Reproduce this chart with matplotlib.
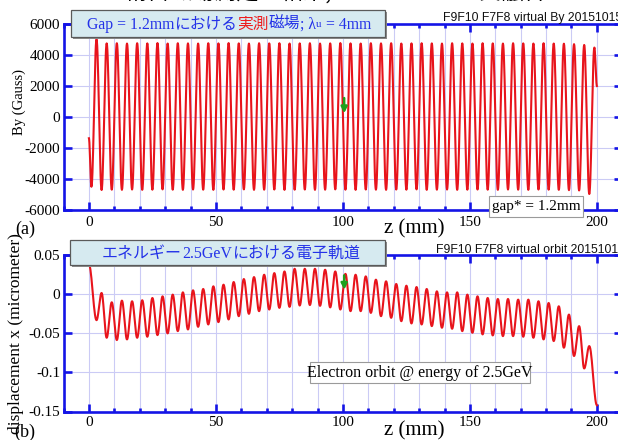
import numpy as np
import matplotlib
matplotlib.use("Agg")
import matplotlib.pyplot as plt
from matplotlib.patches import Rectangle
from matplotlib.transforms import IdentityTransform
from matplotlib.ticker import FixedLocator, FixedFormatter, MultipleLocator

plt.rcParams['axes.unicode_minus'] = False
plt.rcParams['font.family'] = ['Liberation Serif', 'Noto Sans CJK JP']
plt.rcParams['font.size'] = 11

W, H, DPI = 618, 440, 100

LAMBDA_U = 4.0  # undulator period (mm)

# ---------------- (a) virtual By field, value at each extremum (Gauss)
by_start = (0.0, -1370)
by_end = (200.0, 2000)
by_trough_z0 = 1.0
by_peak_z0 = 3.0
by_troughs = [-4500, -4710, -4690, -4700, -4680, -4700, -4690, -4670, -4690, -4700,
              -4680, -4690, -4700, -4680, -4690, -4670, -4700, -4690, -4680, -4700,
              -4690, -4680, -4700, -4690, -4670, -4690, -4700, -4680, -4690, -4700,
              -4680, -4690, -4670, -4700, -4690, -4680, -4700, -4690, -4680, -4690,
              -4700, -4680, -4690, -4700, -4680, -4690, -4700, -4720, -4740, -4970]
by_peaks = [5010, 4750, 4760, 4740, 4760, 4750, 4770, 4740, 4760, 4750,
            4740, 4760, 4750, 4770, 4750, 4740, 4760, 4750, 4760, 4740,
            4750, 4760, 4740, 4750, 4770, 4750, 4740, 4760, 4750, 4760,
            4740, 4750, 4760, 4750, 4740, 4760, 4750, 4740, 4760, 4750,
            4740, 4760, 4750, 4740, 4760, 4740, 4730, 4700, 4650, 4480]

# ---------------- (b) electron orbit at 2.5 GeV, value at each extremum
orbit_start = (0.0, 0.038)
orbit_end = (200.0, -0.142)
orbit_trough_z0 = 3.0
orbit_peak_z0 = 5.0
orbit_troughs = [-0.0333, -0.0558, -0.0587, -0.0579, -0.0558, -0.0545, -0.0524, -0.0502, -0.0473, -0.0452,
                 -0.0418, -0.0388, -0.0358, -0.0324, -0.0282, -0.0252, -0.0218, -0.0197, -0.0176, -0.0163,
                 -0.0146, -0.0140, -0.0150, -0.0170, -0.0197,
                 -0.0218, -0.0218, -0.0240, -0.0282, -0.0303, -0.0346, -0.0375,
                 -0.0388, -0.0409, -0.0430, -0.0443, -0.0473, -0.0494, -0.0515, -0.0528, -0.0537,
                 -0.0537, -0.0545, -0.0558, -0.0579, -0.0600, -0.0685, -0.0791, -0.0950]
orbit_peaks = [0.0015, -0.0104, -0.0083, -0.0091, -0.0078, -0.0049, -0.0028, -0.0006, 0.0023, 0.0049,
               0.0066, 0.0100, 0.0121, 0.0155, 0.0193, 0.0218, 0.0248, 0.0269, 0.0290, 0.0324,
               0.0324, 0.0324, 0.0312, 0.0290,
               0.0259, 0.0248, 0.0227, 0.0185, 0.0164, 0.0130, 0.0108, 0.0091,
               0.0066, 0.0036, 0.0023, 0.0023, -0.0006, -0.0028, -0.0049, -0.0062, -0.0062,
               -0.0070, -0.0070, -0.0091, -0.0113, -0.0155, -0.0261, -0.0409, -0.0664]

# ---------------- axes ticks
x_ticks = [0, 50, 100, 150, 200]
x_labels = ['0', '50', '100', '150', '200']
by_ticks = [6000, 4000, 2000, 0, -2000, -4000, -6000]
by_labels = ['6000', '4000', '2000', '0', '-2000', '-4000', '-6000']
orbit_ticks = [0.05, 0, -0.05, -0.1, -0.15]
orbit_labels = ['0.05', '0', '-0.05', '-0.1', '-0.15']

BLUE = '#1414e6'
GRID = '#cbcbf5'
RED = '#e8141c'
TEXT_BLUE = '#2432e8'


def extrema_points(start, end, low_z0, lows, high_z0, highs):
    z = [start[0], end[0]]
    v = [start[1], end[1]]
    z += [low_z0 + LAMBDA_U * k for k in range(len(lows))]
    v += list(lows)
    z += [high_z0 + LAMBDA_U * k for k in range(len(highs))]
    v += list(highs)
    order = np.argsort(z)
    return np.asarray(z)[order], np.asarray(v)[order]


def smooth_through(z, v, n=16):
    """Half-cosine segments between successive extrema."""
    zs, vs = [z[0]], [v[0]]
    t = np.linspace(0, 1, n)[1:]
    s = 0.5 - 0.5 * np.cos(np.pi * t)
    for i in range(len(z) - 1):
        zs.extend(z[i] + (z[i + 1] - z[i]) * t)
        vs.extend(v[i] + (v[i + 1] - v[i]) * s)
    return np.array(zs), np.array(vs)


def px_axes(left, top, right, bottom):
    return [left / W, 1 - bottom / H, (right - left) / W, (bottom - top) / H]


def style_axes(ax, yticks, ylabels, ylim, xpad):
    ax.set_xlim(-10, 210)
    ax.set_ylim(*ylim)
    ax.xaxis.set_major_locator(FixedLocator(x_ticks))
    ax.xaxis.set_major_formatter(FixedFormatter(x_labels))
    ax.xaxis.set_minor_locator(MultipleLocator(10))
    ax.yaxis.set_major_locator(FixedLocator(yticks))
    ax.yaxis.set_major_formatter(FixedFormatter(ylabels))
    for sp in ax.spines.values():
        sp.set_color(BLUE)
        sp.set_linewidth(1.9)
    ax.tick_params(which='both', direction='in', top=True, right=True,
                   color=BLUE, width=1.9, labelsize=11)
    ax.tick_params(which='major', length=5.5)
    ax.tick_params(which='minor', length=3)
    ax.tick_params(axis='x', pad=xpad)
    ax.tick_params(axis='y', pad=2.5)
    ax.grid(which='both', axis='x', color=GRID, lw=0.8)
    ax.grid(which='major', axis='y', color=GRID, lw=0.8)
    ax.set_axisbelow(True)


fig = plt.figure(figsize=(W / DPI, H / DPI), dpi=DPI)
fig.patch.set_facecolor('white')

ax1 = fig.add_axes(px_axes(63.5, 24, 622.3, 210))
ax2 = fig.add_axes(px_axes(63.5, 255, 622.3, 411.5))

zb, vb = smooth_through(*extrema_points(by_start, by_end, by_trough_z0, by_troughs,
                                        by_peak_z0, by_peaks))
ax1.plot(zb, vb, color=RED, lw=1.5, solid_joinstyle='round')
style_axes(ax1, by_ticks, by_labels, (-6000, 6000), 4.5)

zo, vo = smooth_through(*extrema_points(orbit_start, orbit_end, orbit_trough_z0, orbit_troughs,
                                        orbit_peak_z0, orbit_peaks))
ax2.plot(zo, vo, color=RED, lw=1.5, solid_joinstyle='round')
style_axes(ax2, orbit_ticks, orbit_labels, (-0.15, 0.05), 3.0)

# green markers at z = 100 mm
arrow_kw = dict(arrowstyle='-|>', color='#1ea01e', lw=1.8, mutation_scale=9)
ax1.annotate('', xy=(100.5, 60), xytext=(100.5, 1400), arrowprops=arrow_kw)
ax2.annotate('', xy=(100.5, 0.002), xytext=(100.5, 0.0275), arrowprops=arrow_kw)

ID = IdentityTransform()


def ftext(x, y, s, **kw):
    return fig.text(x, H - y, s, transform=ID, **kw)


def frect(x0, y0, x1, y1, **kw):
    r = Rectangle((x0, H - y1), x1 - x0, y1 - y0, transform=ID, **kw)
    fig.add_artist(r)
    return r


def text_runs(cx, baseline, runs, size):
    renderer = fig.canvas.get_renderer()
    objs = []
    for s, fam, col, scale, dy in runs:
        t = fig.text(0, 0, s, transform=ID, family=fam, color=col,
                     fontsize=size * scale, va='baseline', ha='left', zorder=6)
        objs.append((t, dy))
    widths = [t.get_window_extent(renderer).width for t, _ in objs]
    x = cx - sum(widths) / 2
    for (t, dy), w in zip(objs, widths):
        t.set_position((x, H - baseline - dy))
        x += w


SERIF = 'Liberation Serif'
CJK = 'Noto Sans CJK JP'

# clipped heading line
ftext(335, -8, '精密磁場測定の結果; 150 + 150mm 貫融合', family=CJK, fontsize=16,
      ha='center', va='center', color='black')

# panel (a) caption box
frect(72.5, 11.5, 386.5, 38.5, fc='#8c8c8c', ec='none', zorder=4)
frect(71, 10, 385, 37, fc='#d6eaf0', ec='#5a5a5a', lw=0.9, zorder=5)
text_runs(229, 29, [
    ('Gap = 1.2mm', SERIF, TEXT_BLUE, 1.0, 0),
    ('における', CJK, TEXT_BLUE, 1.0, 0),
    ('実測', CJK, '#ee1c1c', 1.0, 0),
    ('磁場', CJK, TEXT_BLUE, 1.0, 0),
    ('; λ', SERIF, TEXT_BLUE, 1.0, 0),
    ('u', SERIF, TEXT_BLUE, 0.7, -2),
    (' = 4mm', SERIF, TEXT_BLUE, 1.0, 0),
], 11.3)

# panel (b) caption box
frect(71.5, 241.5, 386.5, 266.5, fc='#8c8c8c', ec='none', zorder=4)
frect(70, 240, 385, 265, fc='#d6eaf0', ec='#5a5a5a', lw=0.9, zorder=5)
text_runs(231, 258, [
    ('エネルギー', CJK, TEXT_BLUE, 1.0, 0),
    ('2.5GeV', SERIF, TEXT_BLUE, 1.0, 0),
    ('における電子軌道', CJK, TEXT_BLUE, 1.0, 0),
], 11.5)

# run identifiers
ftext(443, 21, 'F9F10 F7F8 virtual By 20151015', family='Liberation Sans',
      fontsize=8.8, va='baseline', ha='left', color='#111111')
ftext(436, 253, 'F9F10 F7F8 virtual orbit 20151015', family='Liberation Sans',
      fontsize=8.8, va='baseline', ha='left', color='#111111')

# gap note and orbit note
frect(489, 196, 583, 217, fc='white', ec='#9a9a9a', lw=0.8, zorder=5)
ftext(536, 206.5, 'gap* = 1.2mm', family=SERIF, fontsize=11, ha='center', va='center', zorder=6)
frect(310, 362, 530, 383, fc='white', ec='#9a9a9a', lw=0.8, zorder=5)
ftext(420, 372.5, 'Electron orbit @ energy of 2.5GeV', family=SERIF, fontsize=11.5,
      ha='center', va='center', zorder=6)

# axis titles and panel letters
ftext(414, 229, 'z (mm)', family=SERIF, fontsize=15, ha='center', va='center')
ftext(414, 431, 'z (mm)', family=SERIF, fontsize=15, ha='center', va='center')
ftext(25, 229, '(a)', family=SERIF, fontsize=13, ha='center', va='center')
ftext(25, 432, '(b)', family=SERIF, fontsize=13, ha='center', va='center')
ftext(19, 102, 'By (Gauss)', family=SERIF, fontsize=10.5, rotation=90, ha='center', va='center')
ftext(16.5, 334, 'displacement x (micrometer)', family=SERIF, fontsize=12.5, rotation=90,
      ha='center', va='center')

fig.savefig('out.png', dpi=DPI)
